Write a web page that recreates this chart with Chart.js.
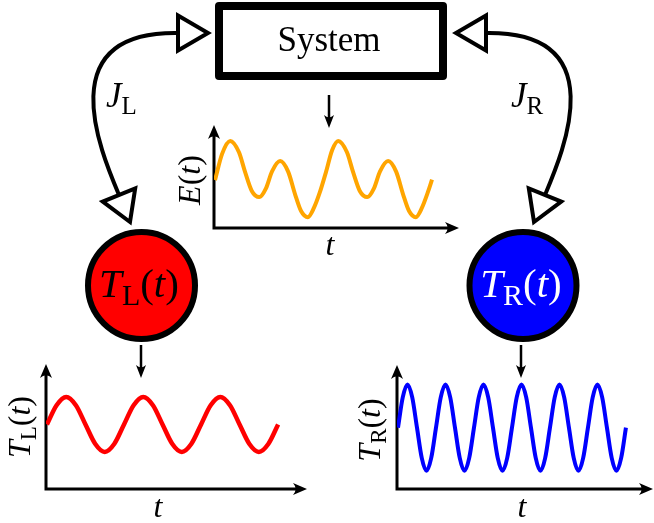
<!DOCTYPE html>
<html>
<head>
<meta charset="utf-8">
<script src="https://cdn.jsdelivr.net/npm/chart.js@4"></script>
<style>
  html, body { margin: 0; padding: 0; background: #fff; }
  #wrap { position: relative; width: 654px; height: 523px; overflow: hidden; }
  #wrap canvas { position: absolute; }
</style>
</head>
<body>
<div id="wrap">
  <canvas id="diagram" width="654" height="523" style="left:0px;top:0px"></canvas>
  <canvas id="energy" width="298" height="150" style="left:170px;top:115px"></canvas>
  <canvas id="leftBath" width="315" height="168" style="left:0px;top:355px"></canvas>
  <canvas id="rightBath" width="304" height="168" style="left:350px;top:355px"></canvas>
</div>
<script>
// ---- series ----
// system energy E(t)
const eTime  = [0.15, 1.2, 2.4, 3.7, 4.6, 5.6, 6.7, 7.7, 8.6, 9.8, 11.0, 12.0, 12.9, 13.9, 14.8, 15.7, 16.6, 17.5,
                18.4, 19.7, 20.6, 21.6, 22.7, 23.7, 24.6, 25.8, 27.0, 28.0, 28.9, 29.9, 30.8, 31.7, 32.3];
const eValue = [4.65, 7.2, 8.45, 7.35, 5.45, 3.6, 3.0, 3.85, 5.5, 6.5, 5.45, 3.3, 1.65, 1.05, 1.95, 3.5, 5.45, 7.55,
                8.45, 7.35, 5.45, 3.6, 3.0, 3.85, 5.5, 6.5, 5.45, 3.3, 1.65, 1.05, 1.95, 3.5, 4.7];

// left bath temperature T_L(t)
const tlTime  = [0, 1, 2, 3, 4, 5, 6, 7, 8, 9, 10, 11, 12, 13, 14, 15, 16, 17, 18, 19, 20, 21, 22, 23, 24];
const tlValue = [0, 0.7, 1, 0.7, 0, -0.7, -1, -0.7, 0, 0.7, 1, 0.7, 0, -0.7, -1, -0.7,
                 0, 0.7, 1, 0.7, 0, -0.7, -1, -0.7, 0];

// right bath temperature T_R(t)
const trTime  = [0, 1, 2, 3, 4, 5, 6, 7, 8, 9, 10, 11, 12, 13, 14, 15, 16, 17, 18, 19, 20, 21, 22, 23, 24,
                 25, 26, 27, 28, 29, 30, 31, 32, 33, 34, 35, 36, 37, 38, 39, 40, 41, 42, 43, 44, 45, 46, 47, 48];
const trValue = [0, 0.7, 1, 0.7, 0, -0.7, -1, -0.7, 0, 0.7, 1, 0.7, 0, -0.7, -1, -0.7,
                 0, 0.7, 1, 0.7, 0, -0.7, -1, -0.7, 0, 0.7, 1, 0.7, 0, -0.7, -1, -0.7,
                 0, 0.7, 1, 0.7, 0, -0.7, -1, -0.7, 0, 0.7, 1, 0.7, 0, -0.7, -1, -0.7, 0];

const SERIF = '"Liberation Serif", "Times New Roman", serif';

// draws a run of math-style text: [text, style] with style i = italic, r = roman, s = roman subscript
function drawMath(ctx, parts, x, y, size, align, color) {
  const fontOf = st => st === 'i' ? `italic ${size}px ${SERIF}`
                     : st === 's' ? `${Math.round(size * 0.72)}px ${SERIF}`
                     : `${size}px ${SERIF}`;
  ctx.save();
  ctx.fillStyle = color || '#000';
  ctx.textAlign = 'left';
  ctx.textBaseline = 'alphabetic';
  let total = 0;
  const widths = parts.map(([t, st]) => { ctx.font = fontOf(st); const w = ctx.measureText(t).width; total += w; return w; });
  let cx = align === 'center' ? x - total / 2 : x;
  parts.forEach(([t, st], i) => {
    ctx.font = fontOf(st);
    ctx.fillText(t, cx, y + (st === 's' ? size * 0.19 : 0));
    cx += widths[i];
  });
  ctx.restore();
}

function arrowHead(ctx, tx, ty, dx, dy, len, hw) {
  const px = -dy, py = dx;
  const bx = tx - dx * len, by = ty - dy * len;
  ctx.beginPath();
  ctx.moveTo(tx, ty);
  ctx.lineTo(bx + px * hw, by + py * hw);
  ctx.quadraticCurveTo(tx - dx * len * 0.62, ty - dy * len * 0.62, bx - px * hw, by - py * hw);
  ctx.closePath();
  ctx.fill();
}

function openTriangle(ctx, pts) {
  ctx.beginPath();
  ctx.moveTo(pts[0][0], pts[0][1]);
  ctx.lineTo(pts[1][0], pts[1][1]);
  ctx.lineTo(pts[2][0], pts[2][1]);
  ctx.closePath();
  ctx.fillStyle = '#fff';
  ctx.fill();
  ctx.lineWidth = 4;
  ctx.lineJoin = 'miter';
  ctx.strokeStyle = '#000';
  ctx.stroke();
}

function downArrow(ctx, x, y0, y1) {
  ctx.strokeStyle = '#000';
  ctx.fillStyle = '#000';
  ctx.lineWidth = 2.5;
  ctx.beginPath();
  ctx.moveTo(x, y0);
  ctx.lineTo(x, y1 - 8);
  ctx.stroke();
  arrowHead(ctx, x, y1, 0, 1, 13, 5);
}

// ---- block diagram: system box, heat currents and the two baths ----
const diagramPlugin = {
  id: 'diagram',
  afterDraw(chart) {
    const ctx = chart.ctx;
    ctx.save();

    // heat currents J_L and J_R
    ctx.strokeStyle = '#000';
    ctx.lineWidth = 4;
    ctx.lineCap = 'butt';
    ctx.beginPath();
    ctx.moveTo(178, 33);
    ctx.bezierCurveTo(50, 31, 100, 150, 119, 195);
    ctx.stroke();
    ctx.beginPath();
    ctx.moveTo(486, 33);
    ctx.bezierCurveTo(614, 31, 564, 150, 545, 195);
    ctx.stroke();

    openTriangle(ctx, [[178, 15.5], [208, 33], [178, 50.5]]);
    openTriangle(ctx, [[486, 15.5], [456, 33], [486, 50.5]]);
    openTriangle(ctx, [[102.8, 201.6], [130, 222], [135.2, 188.4]]);
    openTriangle(ctx, [[561.2, 201.6], [534, 222], [528.8, 188.4]]);

    drawMath(ctx, [['J', 'i'], ['L', 's']], 106, 107, 35, 'left');
    drawMath(ctx, [['J', 'i'], ['R', 's']], 511, 107, 35, 'left');

    // system box
    ctx.lineWidth = 8;
    ctx.lineJoin = 'round';
    ctx.strokeStyle = '#000';
    ctx.fillStyle = '#fff';
    ctx.fillRect(219, 6, 224, 70);
    ctx.strokeRect(219, 6, 224, 70);
    ctx.fillStyle = '#000';
    ctx.font = `35px ${SERIF}`;
    ctx.textAlign = 'center';
    ctx.textBaseline = 'alphabetic';
    ctx.fillText('System', 329, 51);

    // baths
    const bath = (cx, fill) => {
      ctx.beginPath();
      ctx.arc(cx, 285.5, 53.5, 0, Math.PI * 2);
      ctx.fillStyle = fill;
      ctx.fill();
      ctx.lineWidth = 6;
      ctx.strokeStyle = '#000';
      ctx.stroke();
    };
    bath(141.5, '#ff0000');
    bath(523, '#0000ff');
    drawMath(ctx, [['T', 'i'], ['L', 's'], ['(', 'r'], ['t', 'i'], [')', 'r']], 139, 297, 41, 'center', '#000');
    drawMath(ctx, [['T', 'i'], ['R', 's'], ['(', 'r'], ['t', 'i'], [')', 'r']], 521, 297, 41, 'center', '#fff');

    // small arrows into the time traces
    downArrow(ctx, 329, 95, 128);
    downArrow(ctx, 141, 345, 378);
    downArrow(ctx, 521, 345, 378);

    ctx.restore();
  }
};

new Chart(document.getElementById('diagram'), {
  type: 'scatter',
  data: { datasets: [] },
  options: {
    responsive: false, animation: false, devicePixelRatio: 1,
    scales: { x: { display: false }, y: { display: false } },
    plugins: { legend: { display: false }, tooltip: { enabled: false } }
  },
  plugins: [diagramPlugin]
});

// ---- arrowed axes and labels for the time traces ----
const axesPlugin = {
  id: 'arrowAxes',
  beforeDatasetsDraw(chart) {
    const { ctx, chartArea: a } = chart;
    ctx.save();
    ctx.strokeStyle = '#000';
    ctx.fillStyle = '#000';
    ctx.lineWidth = 3;
    ctx.beginPath();
    ctx.moveTo(a.left, a.bottom + 1.5);
    ctx.lineTo(a.left, a.top + 7);
    ctx.moveTo(a.left - 1.5, a.bottom);
    ctx.lineTo(a.right - 7, a.bottom);
    ctx.stroke();
    arrowHead(ctx, a.left, a.top, 0, -1, 14, 6);
    arrowHead(ctx, a.right, a.bottom, 1, 0, 14, 6);
    ctx.restore();
  },
  afterDraw(chart, args, opts) {
    const { ctx, chartArea: a } = chart;
    ctx.save();
    ctx.translate(a.left + opts.yLabelDX, a.top + opts.yLabelCY);
    ctx.rotate(-Math.PI / 2);
    drawMath(ctx, opts.yLabel, 0, 0, opts.size, 'center', '#000');
    ctx.restore();
    drawMath(ctx, [['t', 'i']], a.left + opts.tLabelDX, a.bottom + opts.tLabelDY, opts.size, 'center', '#000');
  }
};

function traceChart(id, times, values, color, lineWidth, frame) {
  return new Chart(document.getElementById(id), {
    type: 'line',
    data: {
      datasets: [{
        data: times.map((t, i) => ({ x: t, y: values[i] })),
        borderColor: color,
        borderWidth: lineWidth,
        pointRadius: 0,
        cubicInterpolationMode: 'monotone',
        fill: false
      }]
    },
    options: {
      responsive: false, animation: false, devicePixelRatio: 1,
      layout: { padding: frame.padding },
      scales: {
        x: { type: 'linear', display: false, min: frame.xMin, max: frame.xMax },
        y: { type: 'linear', display: false, min: frame.yMin, max: frame.yMax }
      },
      plugins: { legend: { display: false }, tooltip: { enabled: false }, arrowAxes: frame.labels }
    },
    plugins: [axesPlugin]
  });
}

traceChart('energy', eTime, eValue, '#ffa500', 4, {
  padding: { left: 44, top: 10, right: 9, bottom: 37 },
  xMin: 0, xMax: 36.3, yMin: 0, yMax: 10,
  labels: { yLabel: [['E', 'i'], ['(', 'r'], ['t', 'i'], [')', 'r']], yLabelDX: -14.5, yLabelCY: 55,
            tLabelDX: 116, tLabelDY: 27, size: 32 }
});

traceChart('leftBath', tlTime, tlValue, '#ff0000', 4.5, {
  padding: { left: 46, top: 9, right: 8, bottom: 34 },
  xMin: -0.1, xMax: 27.0, yMin: -2.35, yMax: 2.2,
  labels: { yLabel: [['T', 'i'], ['L', 's'], ['(', 'r'], ['t', 'i'], [')', 'r']], yLabelDX: -16.5, yLabelCY: 63,
            tLabelDX: 112, tLabelDY: 28, size: 32 }
});

traceChart('rightBath', trTime, trValue, '#0000ff', 4, {
  padding: { left: 47, top: 10, right: 1, bottom: 34 },
  xMin: -0.21, xMax: 53.7, yMin: -1.42, yMax: 1.45,
  labels: { yLabel: [['T', 'i'], ['R', 's'], ['(', 'r'], ['t', 'i'], [')', 'r']], yLabelDX: -17, yLabelCY: 65,
            tLabelDX: 125, tLabelDY: 28, size: 32 }
});
</script>
</body>
</html>
